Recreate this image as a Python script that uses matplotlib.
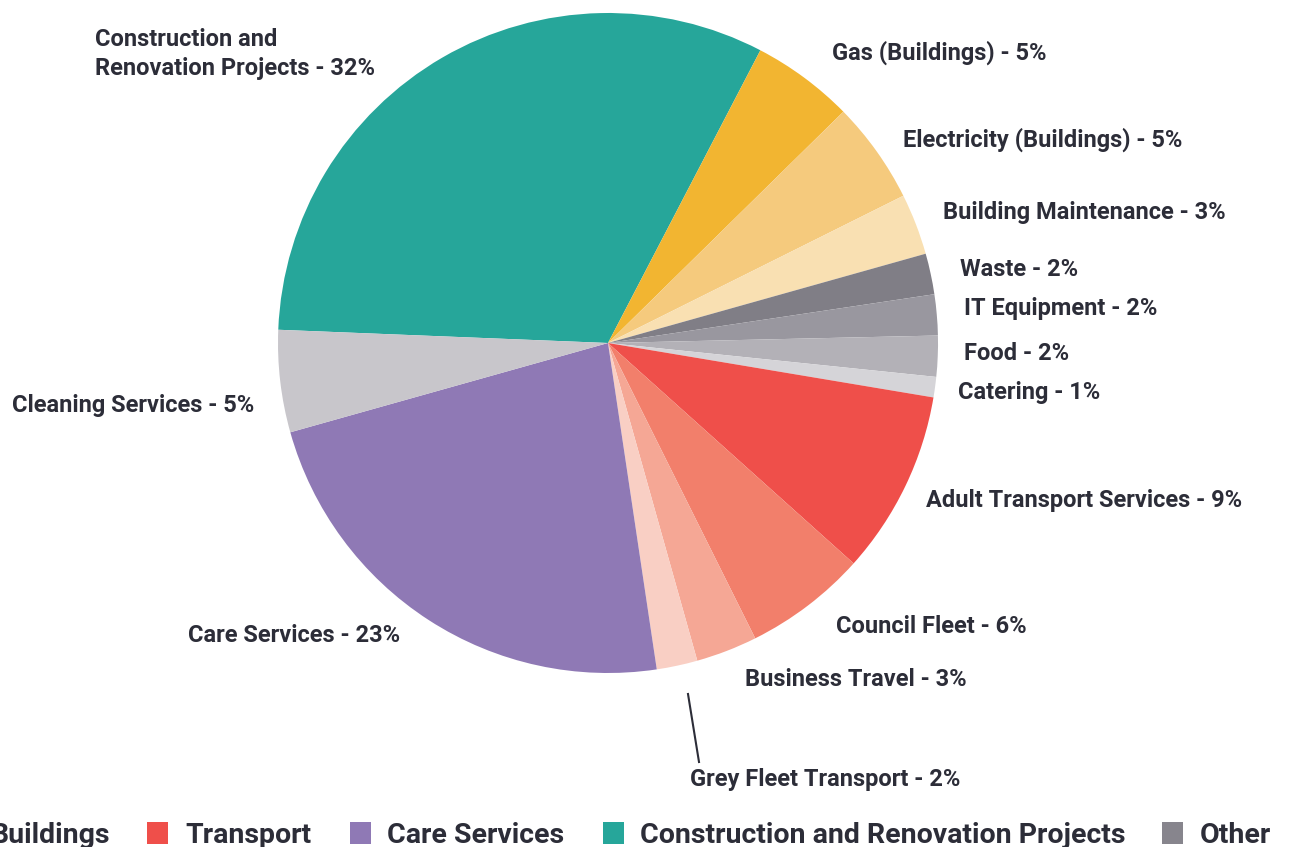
import matplotlib
matplotlib.use("Agg")
import matplotlib.pyplot as plt
from matplotlib.patches import Rectangle

# 数据
labels = ["Construction and\nRenovation Projects", "Gas (Buildings)", "Electricity (Buildings)",
          "Building Maintenance", "Waste", "IT Equipment", "Food", "Catering",
          "Adult Transport Services", "Council Fleet", "Business Travel",
          "Grey Fleet Transport", "Care Services", "Cleaning Services"]
values = [32, 5, 5, 3, 2, 2, 2, 1, 9, 6, 3, 2, 23, 5]
colors = ["#26a69a", "#f2b531", "#f5ca7d", "#f9e0b2", "#807e86", "#99979f", "#b3b1b7",
          "#d5d4d8", "#ef4f4a", "#f27f6b", "#f5a795", "#f9cfc4", "#8f79b5", "#c8c6cb"]
groups = ["Buildings", "Transport", "Care Services", "Construction and Renovation Projects", "Other"]
group_colors = ["#f2b531", "#ef4f4a", "#8f79b5", "#26a69a", "#87858d"]

# 标签位置（像素，左边缘, 中心y）
label_pos = [(95, 54), (832, 53), (903, 140), (943, 213), (960, 270), (964, 309),
             (964, 353), (958, 392), (926, 501), (836, 626), (745, 680), (690, 779),
             (188, 636), (12, 405)]
# 图例位置（色块左边缘, 文字左边缘）
legend_sq_x = [-46, 147, 350, 603, 1162]
legend_tx_x = [-10, 185, 387, 640, 1200]

W, H = 1292, 847
text_color = "#2c2d38"
plt.rcParams["font.family"] = ["Roboto", "DejaVu Sans"]

fig = plt.figure(figsize=(W / 100, H / 100), dpi=100)
cx, cy, r = 608, 343, 330
ax = fig.add_axes([(cx - r) / W, 1 - (cy + r) / H, 2 * r / W, 2 * r / H])
ax.pie(values, colors=colors, startangle=177.7, counterclock=False, radius=1,
       wedgeprops=dict(linewidth=0.5, edgecolor="none"))
ax.set_xlim(-1, 1)
ax.set_ylim(-1, 1)
ax.set_aspect("equal")
ax.axis("off")

for lab, v, (x, y) in zip(labels, values, label_pos):
    fig.text(x / W, 1 - y / H, f"{lab} - {v}%", ha="left", va="center",
             fontsize=17, fontweight="bold", color=text_color, linespacing=1.35)

# Grey Fleet 引线
fig.add_artist(plt.Line2D([688 / W, 699 / W], [1 - 694 / H, 1 - 762 / H],
                          color=text_color, linewidth=1.5))

# 图例
for g, c, sx, tx in zip(groups, group_colors, legend_sq_x, legend_tx_x):
    fig.add_artist(Rectangle((sx / W, 1 - 844 / H), 21 / W, 22 / H,
                             transform=fig.transFigure, facecolor=c, edgecolor="none"))
    fig.text(tx / W, 1 - 843 / H, g, ha="left", va="baseline", fontsize=20.5,
             fontweight="bold", color=text_color)

fig.savefig("out.png", dpi=100, facecolor="white")
